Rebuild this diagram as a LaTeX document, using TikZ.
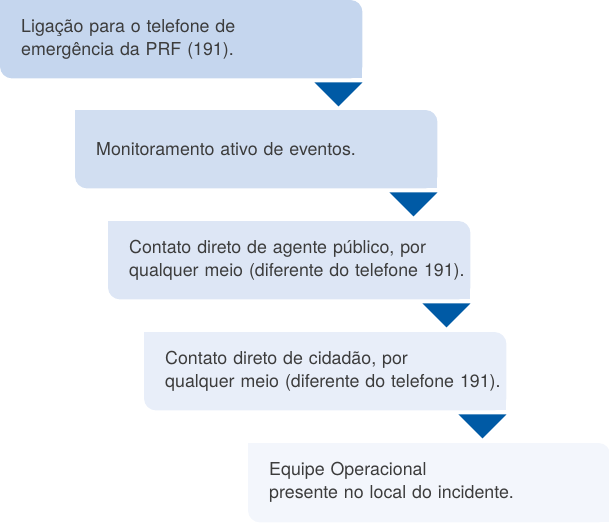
\documentclass[tikz,border=0pt]{standalone}
\usepackage{fontspec}
\setmainfont{TeX Gyre Heros}
\usetikzlibrary{backgrounds}

\definecolor{stepA}{RGB}{197,214,238}
\definecolor{stepB}{RGB}{209,222,241}
\definecolor{stepC}{RGB}{221,230,245}
\definecolor{stepD}{RGB}{232,238,249}
\definecolor{stepE}{RGB}{243,246,252}
\definecolor{tricol}{RGB}{0,90,165}
\definecolor{txtcol}{RGB}{60,60,60}

% box behind a step node: round top right and bottom left
\newcommand{\stepfill}[2]{%
  \fill[#2,rounded corners=12pt] ([xshift=-21pt]#1.north west) rectangle (#1.south east);
  \fill[#2] ([xshift=-21pt]#1.north west) rectangle ([xshift=-5pt,yshift=-14pt]#1.north west);
  \fill[#2] (#1.south east) rectangle ([xshift=-14pt,yshift=14pt]#1.south east);
}

\begin{document}
\begin{tikzpicture}[
    x=1pt,y=-1pt,
    stepbox/.style={
      anchor=north west,
      inner xsep=0pt,
      inner ysep=0pt,
      text width=341pt,
      minimum height=78pt,
      align=left,
      text=txtcol,
      font=\fontsize{17.8}{23}\selectfont
    },
    arrowtri/.style={
      fill=tricol
    }
    ]
    \useasboundingbox (0,0) rectangle (609,522);

    \node[stepbox] at (21,0)
      (s1) {Ligação para o telefone de\\emergência da PRF (191).};
    \node[stepbox] at (96,110)
      (s2) {Monitoramento ativo de eventos.};
    \node[stepbox] at (129,221)
      (s3) {Contato direto de agente público, por\\qualquer meio (diferente do telefone 191).};
    \node[stepbox] at (165,332)
      (s4) {Contato direto de cidadão, por\\qualquer meio (diferente do telefone 191).};
    \node[stepbox,minimum height=79pt] at (269,443)
      (s5) {Equipe Operacional\\presente no local do incidente.};

    \begin{scope}[on background layer]
    \stepfill{s1}{stepA}
    \stepfill{s2}{stepB}
    \stepfill{s3}{stepC}
    \stepfill{s4}{stepD}
    \stepfill{s5}{stepE}
    \end{scope}

    \fill[arrowtri] ([yshift=-4pt]s1.south east) -- ++(-48,0) -- ++(24,24) -- cycle;
    \fill[arrowtri] ([yshift=-4pt]s2.south east) -- ++(-48,0) -- ++(24,24) -- cycle;
    \fill[arrowtri] ([yshift=-4pt]s3.south east) -- ++(-48,0) -- ++(24,24) -- cycle;
    \fill[arrowtri] ([yshift=-4pt]s4.south east) -- ++(-48,0) -- ++(24,24) -- cycle;
\end{tikzpicture}
\end{document}
